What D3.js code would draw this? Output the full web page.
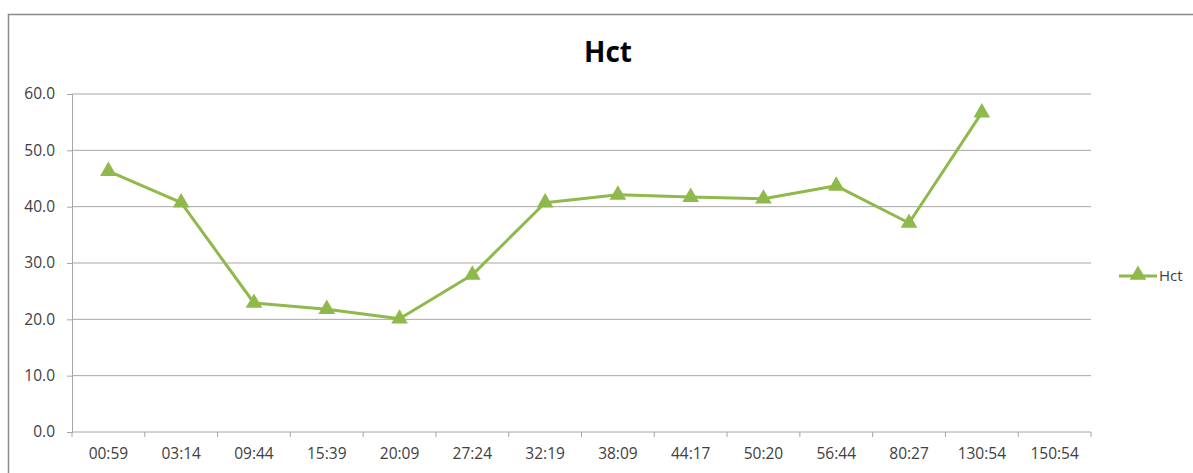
<!DOCTYPE html>
<html>
    <head>
        <script type="text/javascript" src="https://cdn.jsdelivr.net/npm/d3@7"></script>
        <style type="text/css">
            body { margin: 0; background: white; }
            text { font-family: "Open Sans", sans-serif; fill: #404040; }
        </style>
    </head>
    <body>
        <script type="text/javascript">

            // Data
            var categories = ["00:59","03:14","09:44","15:39","20:09","27:24","32:19","38:09","44:17","50:20","56:44","80:27","130:54","150:54"];
            var hctValues = [46.3, 40.7, 22.9, 21.8, 20.1, 27.9, 40.7, 42.1, 41.7, 41.4, 43.7, 37.1, 56.7, null];
            var yTicks = [0, 10, 20, 30, 40, 50, 60];

            var w = 1193, h = 473;
            var green = "#8fb94b";

            var svg = d3.select("body").append("svg")
                        .attr("width", w)
                        .attr("height", h);

            // outer chart border (runs off the right and bottom edge)
            svg.append("rect")
                .attr("x", 8.5).attr("y", 14.5)
                .attr("width", 1200).attr("height", 480)
                .attr("fill", "white")
                .attr("stroke", "#8a8a8a")
                .attr("stroke-width", 1.5);

            // plot area (note: "top" is reserved on window, so use plot* names)
            var plotL = 72, plotR = 1091, plotT = 94, plotB = 432;

            var x = d3.scaleBand().domain(categories).range([plotL, plotR]);
            var y = d3.scaleLinear().domain([0, 60]).range([plotB, plotT]);

            // gridlines
            svg.selectAll("line.grid")
                .data(yTicks.filter(function(d) { return d > 0; }))
                .enter().append("line")
                .attr("class", "grid")
                .attr("x1", plotL).attr("x2", plotR)
                .attr("y1", function(d) { return y(d); })
                .attr("y2", function(d) { return y(d); })
                .attr("stroke", "#a6a6a6").attr("stroke-width", 1);

            // y axis
            var yAxis = svg.append("g")
                .attr("transform", "translate(" + plotL + ",0)")
                .call(d3.axisLeft(y).tickValues(yTicks).tickFormat(d3.format(".1f")).tickSize(5).tickPadding(12));
            yAxis.selectAll("path, line").attr("stroke", "#a6a6a6");
            yAxis.selectAll("text").style("font-size", "15.5px").attr("fill", "#404040");

            // x axis with ticks at band edges
            var xAxis = svg.append("g")
                .attr("transform", "translate(0," + plotB + ")")
                .call(d3.axisBottom(x).tickSize(0).tickPadding(16));
            xAxis.select("path").attr("stroke", "#a6a6a6").attr("d", "M" + plotL + ",0H" + plotR);
            xAxis.selectAll("text").style("font-size", "15.5px").attr("fill", "#404040");
            var edges = categories.map(function(c) { return x(c); }).concat([plotR]);
            xAxis.selectAll("line.edge")
                .data(edges).enter().append("line")
                .attr("class", "edge")
                .attr("x1", function(d) { return d; }).attr("x2", function(d) { return d; })
                .attr("y1", 0).attr("y2", 5)
                .attr("stroke", "#a6a6a6");

            // title
            svg.append("text")
                .attr("x", 608).attr("y", 62)
                .attr("text-anchor", "middle")
                .style("font-size", "28px")
                .style("font-weight", "bold")
                .style("fill", "#000")
                .text("Hct");

            // series line
            var pts = categories.map(function(c, i) { return { c: c, v: hctValues[i] }; })
                                .filter(function(d) { return d.v !== null; });

            var line = d3.line()
                .x(function(d) { return x(d.c) + x.bandwidth() / 2; })
                .y(function(d) { return y(d.v); });

            svg.append("path")
                .datum(pts)
                .attr("d", line)
                .attr("fill", "none")
                .attr("stroke", green)
                .attr("stroke-width", 3)
                .attr("stroke-linejoin", "round");

            var tri = d3.symbol().type(d3.symbolTriangle).size(120);

            svg.selectAll("path.marker")
                .data(pts).enter().append("path")
                .attr("class", "marker")
                .attr("d", tri)
                .attr("transform", function(d) {
                    return "translate(" + (x(d.c) + x.bandwidth() / 2) + "," + y(d.v) + ")";
                })
                .attr("fill", green);

            // legend
            var lg = svg.append("g").attr("transform", "translate(1119,276)");
            lg.append("line").attr("x1", 0).attr("x2", 38).attr("y1", 0).attr("y2", 0)
                .attr("stroke", green).attr("stroke-width", 3);
            lg.append("path").attr("d", tri).attr("transform", "translate(19,-1)").attr("fill", green);
            lg.append("text").attr("x", 40).attr("y", 5).style("font-size", "15px").attr("fill", "#404040").text("Hct");

        </script>
    </body>
</html>
